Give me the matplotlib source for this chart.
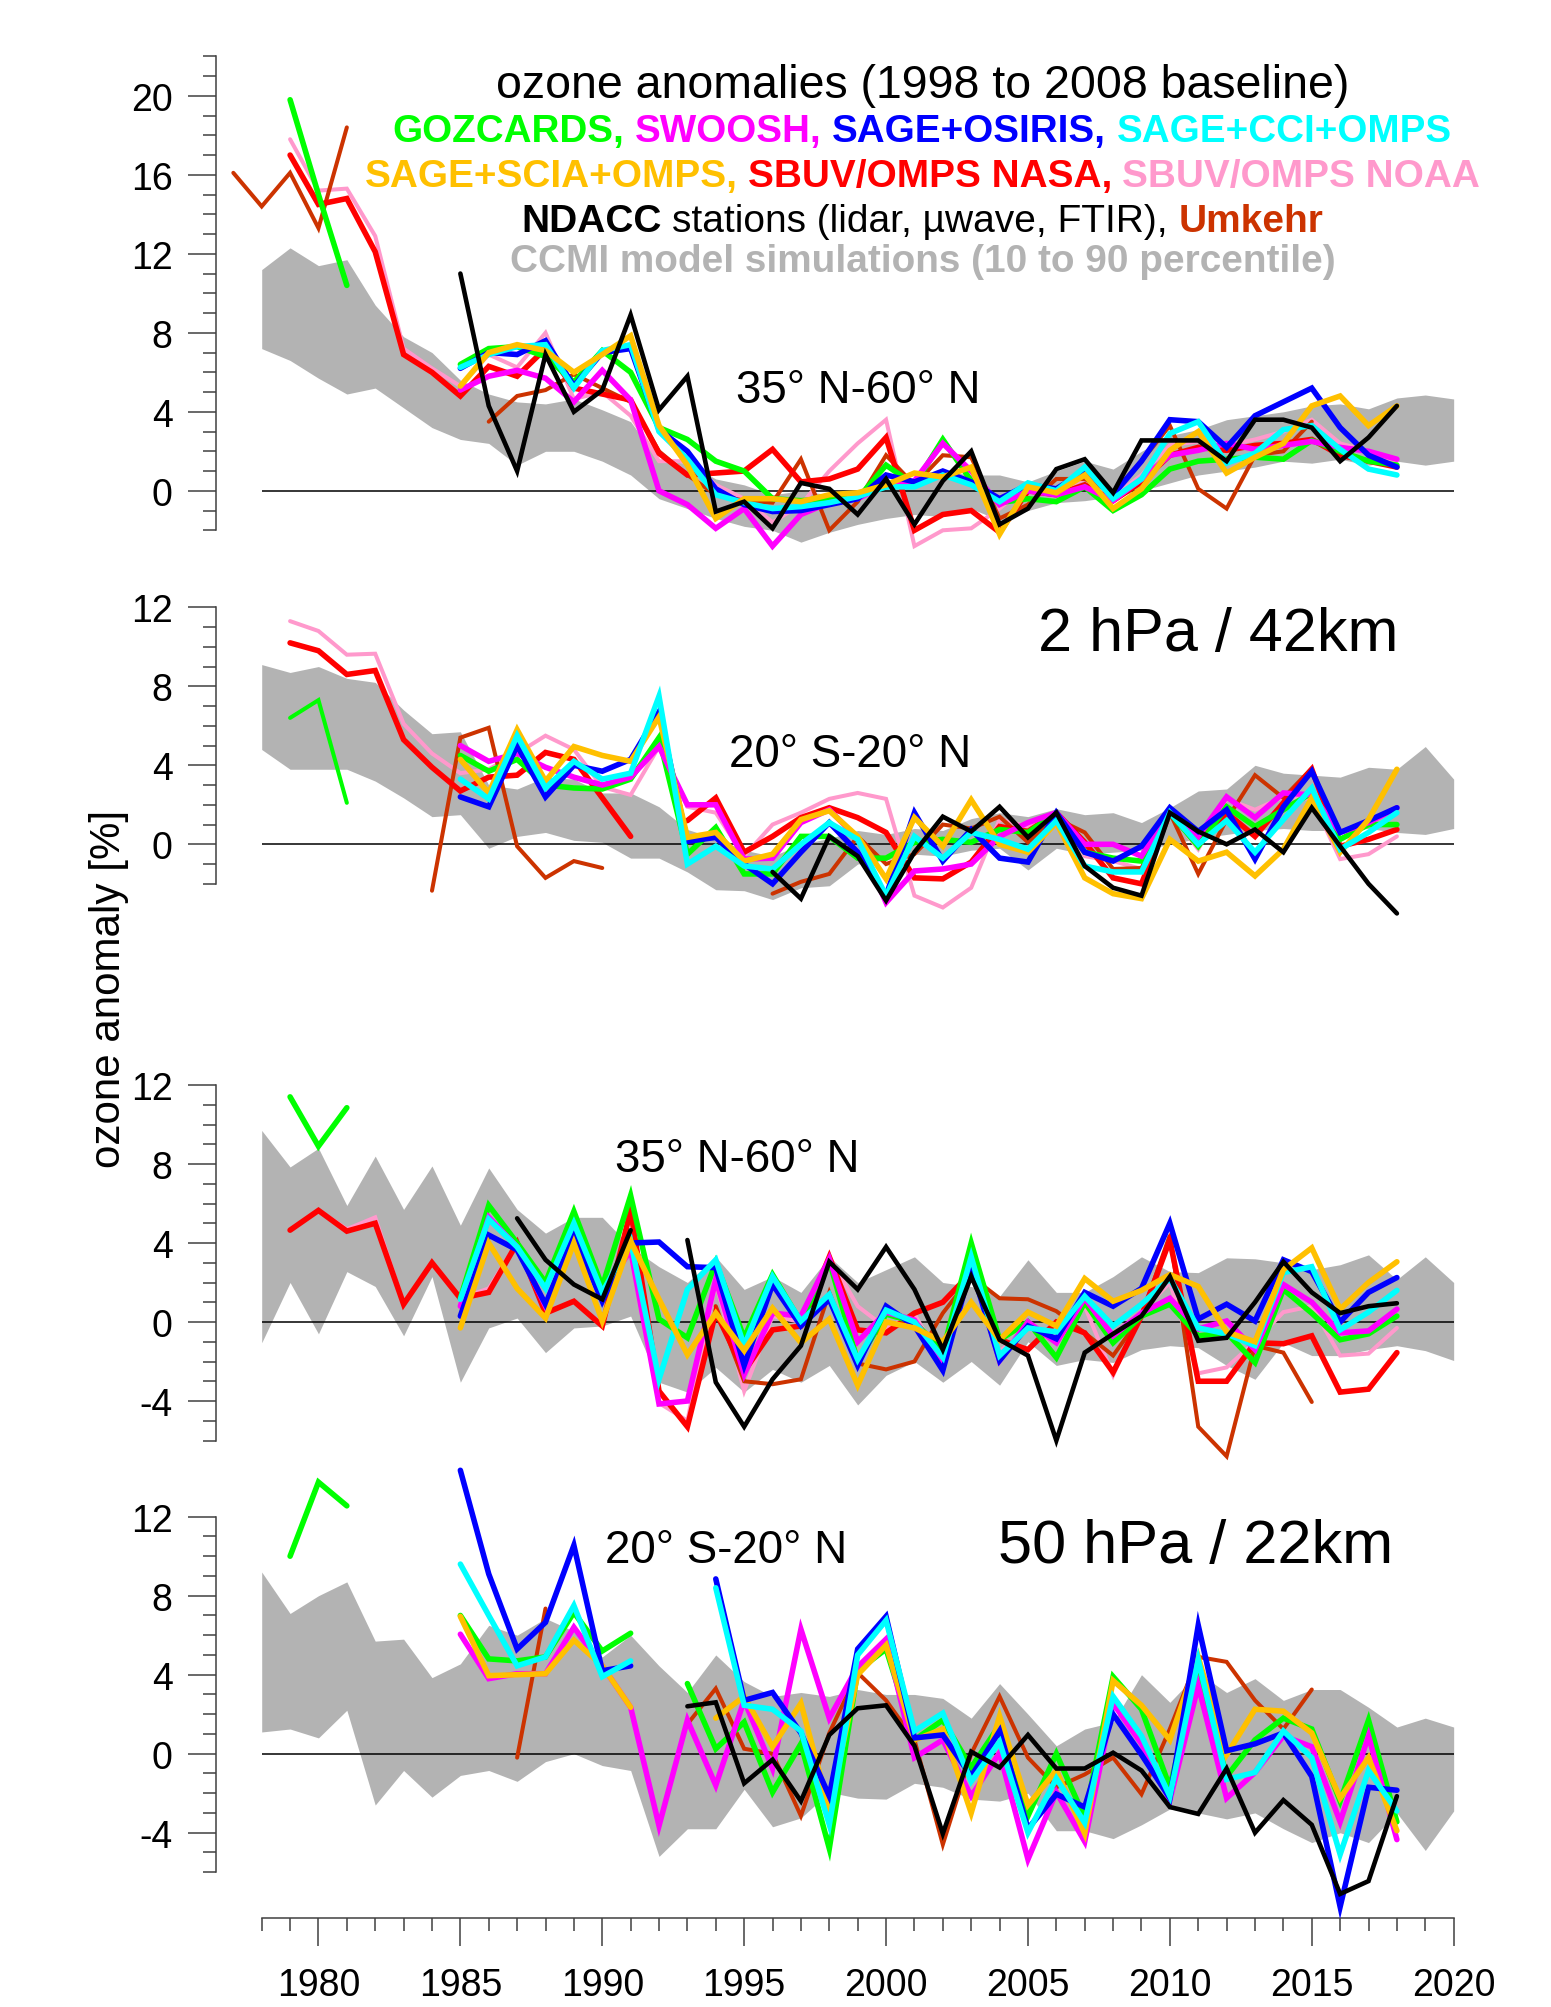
import numpy as np
import matplotlib
matplotlib.use("Agg")
import matplotlib.pyplot as plt
from matplotlib.ticker import FixedLocator, FixedFormatter
from matplotlib.transforms import IdentityTransform

nan = np.nan

# ---------------- data (percent anomalies) ----------------
band_start = 1978   # CCMI band, 1978..2020

# 2 hPa, 35N-60N
p1_hi = [11.2, 12.3, 11.4, 11.7, 9.4, 7.8, 7.0, 5.6, 4.9, 4.5,
         4.4, 4.65, 4.1, 3.5, 1.5, 1.4, 0.6, 0.3, -0.2, 0.0,
         -0.2, 0.0, 0.3, 0.6, 1.0, 0.8, 0.8, 0.45, 1.0, 1.5,
         1.1, 2.0, 2.8, 3.1, 3.6, 3.8, 4.0, 4.3, 4.4, 4.15,
         4.7, 4.85, 4.65]
p1_lo = [7.2, 6.6, 5.7, 4.9, 5.2, 4.2, 3.2, 2.6, 2.4, 1.3,
         2.0, 2.0, 1.5, 0.8, -0.4, -0.9, -1.4, -1.8, -2.0, -2.6,
         -2.1, -1.7, -1.4, -1.2, -1.3, -0.9, -1.5, -1.0, -0.6, -0.5,
         -0.3, 0.0, 0.4, 0.8, 1.0, 1.2, 1.5, 1.4, 1.6, 1.3,
         1.5, 1.3, 1.5]
p1_green_early = [19.8, 15.0, 10.4]            # 1979-1981
p1_green = [6.4, 7.2, 7.3, 6.8, 5.5, 7.1, 6.0, 3.2, 2.6, 1.5,
            1.0, -0.4, -0.5, -0.4, -0.4, 1.3, 0.3, 2.6, 0.5, -0.6,
            -0.4, -0.55, 0.2, -1.0, -0.2, 1.1, 1.5, 1.6, 1.7, 1.6,
            2.55, 2.0, 1.5, 1.3]                  # 1985-2018
p1_magenta = [5.1, 5.8, 6.1, 5.7, 4.5, 6.1, 4.6, 0.0, -0.7, -1.9,
              -0.9, -2.8, -1.2, -0.6, -0.4, 0.3, 0.5, 2.4, 1.0, -0.7,
              0.0, -0.2, 0.2, -0.5, 0.6, 1.8, 2.05, 2.4, 2.1, 2.3,
              2.5, 2.2, 2.0, 1.6]
p1_blue = [6.2, 7.0, 6.9, 7.6, 5.3, 7.0, 7.2, 3.1, 2.0, 0.1,
           -0.7, -1.05, -1.0, -0.7, -0.4, 0.8, 0.45, 1.0, 0.45, -0.4,
           0.3, 0.1, 1.0, -0.2, 1.5, 3.6, 3.5, 2.2, 3.8, 4.5,
           5.2, 3.2, 1.8, 1.2]
p1_cyan = [6.25, 6.9, 7.3, 7.4, 5.2, 7.1, 7.4, 3.0, 1.6, -0.2,
           -0.6, -0.9, -0.8, -0.6, -0.3, 0.2, 0.2, 0.8, 0.3, -0.55,
           0.4, 0.0, 1.2, -0.4, 0.6, 2.9, 3.5, 1.4, 1.9, 3.1,
           3.3, 2.1, 1.1, 0.8]
p1_orange = [5.3, 7.0, 7.4, 7.1, 6.0, 6.9, 7.85, 3.3, 1.3, -1.4,
             -0.4, -0.4, -0.55, -0.2, -0.1, 0.3, 0.9, 0.7, 1.2, -2.2,
             0.2, -0.1, 0.8, -0.9, 0.1, 2.05, 3.0, 0.9, 1.7, 2.4,
             4.3, 4.8, 3.3, 4.3]
p1_red = [17.0, 14.5, 14.8, 12.1, 6.9, 6.0, 4.8, 6.3, 5.8, 7.2,
          5.2, 4.9, 4.6, 1.9, 0.8, 0.9, 1.0, 2.1, 0.45, 0.6,
          1.1, 2.7, -2.0, -1.2, -1.0, -2.1, 0.0, -0.2, 0.3, -0.5,
          0.45, 1.8, 2.2, 2.05, 2.3, 2.4, 2.6, 1.8, 1.5, 1.2]   # 1979-2018
p1_pink = [17.8, 15.2, 15.3, 12.9, 7.2, 6.2, 5.3, 6.9, 6.25, 8.0,
           4.65, 5.0, 3.8, 1.5, 1.5, 0.3, -0.4, -1.6, -0.7, 1.0,
           2.4, 3.6, -2.8, -2.0, -1.9, -0.9, 0.3, 0.0, 0.6, -0.3,
           0.8, 2.3, 2.5, 2.3, 2.6, 3.0, 3.6, 2.4, 2.0, 1.5]
p1_black = [11.0, 4.3, 1.0, 6.9, 4.0, 5.1, 8.9, 4.1, 5.8, -1.05,
            -0.55, -1.9, 0.4, 0.1, -1.2, 0.6, -1.7, 0.5, 2.0, -1.7,
            -0.9, 1.1, 1.6, -0.1, 2.55, 2.55, 2.55, 1.5, 3.6, 3.6,
            3.2, 1.5, 2.7, 4.3]
p1_brown_early = [16.1, 14.4, 16.1, 13.3, 18.4]   # 1977-1981
p1_brown = [3.5, 4.8, 5.1, 5.9, 5.2, 4.5, 2.0, 0.8, -0.2, -0.5,
            -0.6, 1.6, -2.0, -0.55, 1.8, 0.3, 1.8, 1.7, -1.4, -0.7,
            0.6, 0.6, -0.1, 1.5, 3.3, 0.1, -0.9, 1.8, 2.0, 3.5]   # 1986-2015

# 2 hPa, 20S-20N
p2_hi = [9.1, 8.7, 9.0, 8.4, 8.2, 6.8, 5.6, 5.7, 3.0, 2.8,
         3.4, 3.3, 2.6, 2.6, 1.9, 0.75, 0.3, -0.3, -0.6, 0.0,
         0.3, 0.7, 0.5, 0.8, 0.7, 1.3, 1.6, 1.4, 1.8, 1.5,
         1.6, 1.1, 1.85, 2.7, 2.8, 4.0, 3.6, 3.5, 3.4, 3.9,
         3.8, 4.95, 3.3]
p2_lo = [4.8, 3.8, 3.8, 3.8, 3.2, 2.35, 1.4, 1.5, -0.2, 0.4,
         0.6, 0.2, 0.1, -0.7, -0.7, -1.4, -2.3, -2.35, -2.8, -2.2,
         -2.1, -1.0, -0.8, -0.5, -0.6, -0.3, -0.2, -1.3, -0.2, -0.5,
         -0.4, -0.3, 0.0, 0.3, 0.5, 0.7, 0.8, 0.7, 0.7, 0.8,
         0.6, 0.5, 0.8]
p2_green_early = [6.4, 7.3, 2.1]
p2_green = [4.5, 3.7, 4.3, 3.0, 2.85, 2.8, 3.3, 5.4, -0.5, 0.85,
            -1.5, -1.5, 0.4, 0.4, -0.7, -0.7, 0.1, 0.25, 0.1, 0.75,
            0.6, 1.6, -0.4, -0.7, -0.85, 1.6, -0.1, 1.9, 0.9, 1.75,
            2.6, 0.25, 1.0, 1.0]
p2_magenta = [5.0, 4.2, 4.6, 3.9, 3.4, 3.0, 3.4, 4.95, 2.0, 2.0,
              -0.75, -0.7, 1.1, 1.75, 0.3, -2.95, -1.35, -1.25, -1.0, 0.4,
              1.1, 1.6, 0.0, 0.0, -0.6, 1.75, 0.4, 2.4, 1.35, 2.6,
              2.5, 0.6, 1.1, 1.85]
p2_blue = [2.4, 1.9, 5.0, 2.4, 4.0, 3.7, 4.3, 6.7, 0.15, 0.35,
           -1.0, -2.0, -0.4, 1.1, -0.4, -2.6, 1.6, -0.85, 0.75, -0.7,
           -0.9, 1.6, -0.4, -0.85, -0.1, 1.85, 0.65, 1.75, -0.75, 1.9,
           3.7, 0.6, 1.2, 1.85]
p2_cyan = [3.3, 2.3, 5.5, 2.85, 4.2, 3.3, 3.6, 7.5, -1.0, -0.1,
           -1.1, -1.25, 0.0, 1.1, 0.25, -2.6, 0.4, -0.7, 0.6, 0.25,
           -0.25, 1.2, -1.1, -1.4, -1.4, 1.6, 0.0, 1.2, -0.4, 1.25,
           2.85, -0.25, 0.6, 1.6]
p2_orange = [4.3, 2.6, 5.8, 3.2, 4.95, 4.5, 4.2, 6.45, 0.35, 0.6,
             -0.85, -0.5, 1.25, 1.7, 0.4, -1.75, 1.35, -0.1, 2.25, 0.0,
             -0.4, 1.1, -1.7, -2.5, -2.75, 0.25, -0.85, -0.4, -1.6, -0.25,
             2.35, -0.4, 1.25, 3.8]
p2_red = [10.2, 9.8, 8.6, 8.8, 5.3, 3.9, 2.7, 3.4, 3.5, 4.65,
          4.3, 2.35, 0.4, nan, 1.2, 2.35, -0.4, 0.4, 1.35, 1.85,
          1.35, 0.6, -1.7, -1.75, -0.9, 0.9, 0.65, 1.6, 0.1, -1.7,
          -2.0, 1.6, 0.15, 1.6, 0.4, 2.1, 3.8, -0.1, 0.25, 0.75]
p2_pink = [11.3, 10.8, 9.6, 9.65, 6.1, 4.6, 3.6, 3.8, 4.6, 5.5,
           4.8, 2.9, 2.5, 4.95, 1.9, 1.6, -0.6, 1.0, 1.6, 2.3,
           2.6, 2.3, -2.6, -3.2, -2.2, 1.25, 0.9, 1.6, -0.6, -0.85,
           -1.25, 1.6, -0.25, 2.3, 1.75, 2.4, 2.3, -0.75, -0.5, 0.4]
p2_black = [-1.4, -2.75, 0.4, -0.6, -2.85, -0.4, 1.4, 0.65, 1.9, 0.35,
            1.6, -1.1, -2.2, -2.6, 1.6, 0.65, 0.0, 0.75, -0.4, 1.85,
            -0.1, -2.0, -3.5]                       # 1996-2018
p2_brown_early = [-2.35, 5.4, 5.9, -0.1, -1.7, -0.85, -1.2]   # 1984-1990
p2_brown = [-2.5, -1.9, -1.5, 0.4, -1.0, -0.5, 1.0, 0.8, 1.4, 0.1,
            1.3, 0.6, -1.25, -1.2, 1.6, -1.5, 1.25, 3.5, 2.35, 3.85]   # 1996-2015

# 50 hPa, 35N-60N
p3_hi = [9.7, 7.85, 8.8, 5.9, 8.4, 5.7, 7.9, 4.9, 7.8, 5.7,
         4.5, 5.3, 5.3, 3.8, 2.8, 2.0, 3.3, 1.65, 2.3, 1.5,
         3.3, 2.0, 2.65, 3.3, 2.0, 1.8, 1.3, 3.15, 1.5, 1.5,
         2.3, 3.3, 2.55, 2.5, 3.25, 3.2, 3.0, 2.65, 2.9, 3.4,
         2.15, 3.3, 2.0]
p3_lo = [-1.05, 2.0, -0.6, 2.55, 1.8, -0.7, 2.3, -3.05, -0.3, 0.2,
         -1.55, -0.3, -0.2, 0.3, -3.05, -3.55, -2.3, -3.55, -2.4, -3.05,
         -2.2, -4.2, -2.7, -2.0, -3.05, -2.0, -3.2, -1.0, -2.2, -1.9,
         -2.05, -1.4, -1.2, -1.3, -2.2, -2.9, -1.05, -1.7, -1.7, -1.4,
         -1.2, -1.45, -1.95]
p3_green_early = [11.4, 8.9, 10.85]
p3_green = [1.2, 5.9, 4.0, 2.0, 5.6, 1.8, 6.4, 0.15, -0.8, 3.0,
            -0.8, 2.4, 0.0, 3.1, -2.0, 0.4, 0.0, -1.5, 4.0, -0.9,
            0.0, -1.8, 1.0, -1.05, 0.3, 0.9, -0.7, -0.55, -2.05, 1.65,
            0.45, -0.9, -0.6, 0.3]
p3_magenta = [0.8, 5.3, 3.8, 0.8, 4.3, 1.4, 3.65, -4.15, -4.0, 2.15,
              -2.65, 0.45, 0.3, 3.2, -1.0, 0.5, 0.1, -2.05, 3.0, -1.95,
              0.0, -1.05, 1.2, -0.7, 0.45, 1.2, -0.35, 0.05, -1.4, 1.9,
              1.0, -0.55, -0.45, 0.65]
p3_blue = [0.3, 4.4, 3.65, 0.9, 4.4, 1.05, 4.0, 4.05, 2.8, 2.75,
           -2.2, 1.9, -0.2, 1.15, -2.2, 0.8, -0.2, -2.45, 2.8, -1.95,
           -0.2, -0.85, 1.5, 0.8, 1.7, 5.0, 0.15, 0.9, 0.05, 3.15,
           2.55, 0.0, 1.5, 2.25]
p3_cyan = [1.15, 5.2, 3.8, 1.7, 5.0, 1.5, 4.1, -2.9, 1.65, 3.15,
           -1.2, 2.3, 0.05, 1.4, -1.9, 0.6, 0.0, -1.8, 3.3, -1.7,
           -0.3, -0.5, 1.3, -0.2, 0.9, 2.2, -0.3, -0.6, -1.2, 2.5,
           2.8, -0.4, 0.5, 1.6]
p3_orange = [-0.3, 4.0, 1.7, 0.2, 4.0, 0.05, 4.1, 1.15, -1.65, 0.45,
             -1.45, 0.7, -1.05, 0.15, -3.2, 0.0, -0.3, -1.0, 1.0, -0.9,
             0.5, -0.2, 2.2, 1.05, 1.6, 2.4, 1.8, -0.5, -1.0, 2.65,
             3.75, 0.65, 2.0, 3.05]
p3_red = [4.65, 5.65, 4.6, 5.0, 0.9, 3.0, 1.2, 1.5, 4.0, 0.45,
          1.05, -0.2, 5.65, -3.5, -5.3, 0.5, -2.5, -0.4, -0.2, 3.3,
          -0.4, -0.55, 0.45, 1.0, 2.5, -0.9, -1.4, 0.0, -0.55, -2.55,
          0.3, 4.15, -3.0, -3.0, -1.05, -1.1, -0.7, -3.55, -3.4, -1.55]
p3_pink = [4.65, 5.65, 4.7, 5.3, 0.9, 3.0, 1.2, 1.7, 4.0, 0.45,
           1.05, -0.2, 5.5, -4.1, -5.0, 2.0, -3.5, 0.3, 0.0, 3.3,
           0.8, -0.3, 0.4, -2.1, 2.5, -1.5, -0.3, -1.0, 0.8, -2.7,
           0.5, 2.0, -2.6, -2.3, -1.0, 0.5, 0.8, -1.7, -1.6, -0.3]
p3_black = [5.25, 3.15, 1.9, 1.15, 4.65, nan,
            4.15, -3.05, -5.3, -2.9, -1.2, 3.05, 1.65, 3.8, 1.65, -1.4,
            2.3, -0.9, -1.7, -6.0, -1.55, -0.6, 0.3, 2.3, -0.95, -0.8,
            1.0, 3.05, 1.5, 0.45, 0.8, 0.95]       # 1987-2018
p3_brown = [0.8, -3.0, -3.15, -2.9, 1.5, -2.1, -2.4, -2.0, 0.45, 2.3,
            1.2, 1.15, 0.55, -0.55, -1.7, 0.3, 4.4, -5.3, -6.8, -1.2,
            -1.55, -4.05]                           # 1994-2015

# 50 hPa, 20S-20N
p4_hi = [9.2, 7.1, 8.0, 8.7, 5.7, 5.8, 3.85, 4.55, 6.5, 6.0,
         6.85, 6.2, 4.9, 6.0, 4.45, 3.1, 5.0, 3.65, 2.9, 3.1,
         2.9, 3.25, 3.0, 3.0, 2.8, 1.8, 3.55, 2.0, 0.4, 1.25,
         1.6, 4.0, 2.6, 4.1, 3.1, 3.8, 2.7, 3.25, 3.25, 2.35,
         1.35, 1.8, 1.35]
p4_lo = [1.1, 1.25, 0.8, 2.2, -2.6, -0.85, -2.2, -1.1, -0.85, -1.4,
         -0.4, 0.0, -0.6, -0.85, -5.2, -3.8, -3.8, -1.8, -3.7, -3.25,
         -1.95, -2.25, -2.3, -1.5, -1.7, -2.3, -2.4, -2.0, -3.9, -3.9,
         -4.3, -3.6, -2.8, -3.0, -3.3, -3.0, -3.8, -4.5, -4.0, -4.5,
         -3.0, -4.9, -2.9]
p4_green_early = [10.0, 13.75, 12.55]
p4_green = [7.0, 4.8, 4.7, 4.9, 7.15, 5.2, 6.1, nan,
            3.55, 0.25, 1.6, -1.95, 0.5, -4.8, 4.2, 5.3, 0.7, 1.7,
            -0.7, 1.45, -3.15, 0.0, -3.25, 3.9, 2.25, -1.7, 4.35, -1.15,
            0.7, 1.8, 1.25, -2.4, 1.7, -3.45]
p4_magenta = [6.05, 3.8, 4.05, 4.05, 6.4, 4.45, 2.35, -3.65, 1.7, -1.6,
              2.7, -0.75, 6.3, 1.8, 4.4, 5.8, -0.2, 0.7, -2.15, 0.05,
              -5.35, -1.95, -4.45, 2.55, 0.5, -2.35, 3.45, -2.25, -0.95, 0.9,
              0.35, -3.45, 0.9, -4.35]
p4_blue = [14.35, 9.1, 5.3, 6.65, 10.55, 4.2, 4.45, nan, nan,
           8.85, 2.7, 3.1, 1.05, -2.15, 5.3, 6.95, 0.8, 0.95, -1.15,
           1.15, -3.8, -2.05, -2.7, 2.0, -0.05, -2.25, 6.5, 0.15, 0.5,
           1.05, -1.15, -7.75, -1.7, -1.85]
p4_cyan = [9.6, 7.0, 4.45, 4.9, 7.5, 3.9, 4.7, nan, nan,
           8.4, 2.45, 2.25, 1.15, -3.6, 5.0, 6.75, 1.15, 2.05, -1.4,
           0.6, -4.0, -1.25, -3.5, 2.9, 0.9, -2.15, 4.75, -1.3, -0.95,
           1.15, -0.2, -5.1, -0.85, -2.9]
p4_orange = [6.95, 3.95, 4.0, 4.05, 5.75, 4.45, 2.35, nan, nan,
             1.8, 2.9, 0.35, 2.55, -2.8, 4.0, 5.5, 0.7, 1.25, -3.0,
             1.9, -2.6, -0.85, -4.05, 3.7, 2.45, 0.7, 4.9, -0.05, 2.25,
             2.15, 1.05, -2.25, -0.2, -3.9]
p4_black = [2.4, 2.6, -1.5, -0.3, -2.4, 0.95, 2.3, 2.45, 0.4, -4.05,
            0.1, -0.7, 0.95, -0.75, -0.75, 0.05, -0.85, -2.7, -3.05, -0.75,
            -4.0, -2.35, -3.6, -7.1, -6.45, -2.15]   # 1993-2018
p4_brown_early = [-0.2, 7.35]                        # 1987-1988
p4_brown = [1.5, 3.3, 0.25, 0.0, -3.15, 1.05, 4.1, 2.7, 0.7, -4.6,
            0.0, 2.9, -0.2, -1.7, -1.05, -0.2, -2.05, 1.25, 4.9, 4.65,
            2.7, 1.25, 3.25]                          # 1993-2015

GREEN, MAGENTA, BLUE, CYAN = "#00ff00", "#ff00ff", "#0000ff", "#00ffff"
ORANGE, RED, PINK, BROWN = "#ffc000", "#ff0000", "#ff99cc", "#cc3300"
BLACK, BAND, AXC = "#000000", "#b3b3b3", "#404040"

# line widths (points)
LW_SAT, LW_THIN, LW_BLACK = 4.0, 2.9, 3.3

plt.rcParams["font.family"] = ["Liberation Sans", "DejaVu Sans"]

W, H = 1551, 2008
fig = plt.figure(figsize=(W / 100, H / 100), dpi=100)

# pixel geometry
X1978, PXYR, KY = 261.7, 28.38, 19.75
AX_LEFT = 215.7
AX_RIGHT = X1978 + 42 * PXYR
XLEFT = 1978 - (X1978 - AX_LEFT) / PXYR


def make_axes(zero_px, ylo, yhi):
    top = zero_px - yhi * KY
    bot = zero_px - ylo * KY
    ax = fig.add_axes([AX_LEFT / W, 1 - bot / H, (AX_RIGHT - AX_LEFT) / W, (bot - top) / H])
    ax.set_xlim(XLEFT, 2020)
    ax.set_ylim(ylo, yhi)
    ax.patch.set_visible(False)
    return ax


def style_axes(ax, spine_lo, spine_hi, xaxis=False):
    for s in ["top", "right", "bottom"]:
        ax.spines[s].set_visible(False)
    ax.spines["left"].set_bounds(spine_lo, spine_hi)
    ax.spines["left"].set_color(AXC)
    ax.spines["left"].set_linewidth(1.1)
    allt = np.arange(spine_lo, spine_hi + 1)
    major = [t for t in allt if t % 4 == 0]
    minor = [t for t in allt if t % 4 != 0]
    ax.yaxis.set_major_locator(FixedLocator(major))
    ax.yaxis.set_major_formatter(FixedFormatter([str(int(t)) for t in major]))
    ax.yaxis.set_minor_locator(FixedLocator(minor))
    ax.tick_params(axis="y", which="major", direction="out", length=20, width=1.1,
                   color=AXC, labelsize=27, pad=11)
    ax.tick_params(axis="y", which="minor", direction="out", length=9.5, width=1.1, color=AXC)
    if xaxis:
        ax.spines["bottom"].set_visible(True)
        ax.spines["bottom"].set_bounds(1978, 2020)
        ax.spines["bottom"].set_color(AXC)
        ax.spines["bottom"].set_linewidth(1.1)
        yrs = np.arange(1978, 2021)
        xmaj = [y for y in yrs if y % 5 == 0]
        xmin = [y for y in yrs if y % 5 != 0]
        ax.xaxis.set_major_locator(FixedLocator(xmaj))
        ax.xaxis.set_major_formatter(FixedFormatter([str(y) for y in xmaj]))
        ax.xaxis.set_minor_locator(FixedLocator(xmin))
        ax.tick_params(axis="x", which="major", direction="out", length=20, width=1.1,
                       color=AXC, labelsize=27, pad=15)
        ax.tick_params(axis="x", which="minor", direction="out", length=9.5, width=1.1, color=AXC)
    else:
        ax.tick_params(axis="x", which="both", bottom=False, labelbottom=False)


def draw_band(ax, hi, lo):
    yrs = np.arange(band_start, band_start + len(hi))
    ax.fill_between(yrs, lo, hi, color=BAND, lw=0, zorder=1)
    ax.hlines(0, yrs[0], yrs[-1], color="black", lw=1.1, zorder=1.5)


def line(ax, start, vals, color, lw=LW_SAT, z=5):
    v = np.array(vals, dtype=float)
    ax.plot(np.arange(start, start + len(v)), v, color=color, lw=lw, zorder=z,
            solid_joinstyle="miter", solid_capstyle="round")


# ---------------- panel 1 ----------------
ax1 = make_axes(491.8, -3.5, 23.5)
draw_band(ax1, p1_hi, p1_lo)
line(ax1, 1979, p1_pink, PINK, LW_THIN, 2)
line(ax1, 1977, p1_brown_early, BROWN, LW_THIN, 3)
line(ax1, 1986, p1_brown, BROWN, LW_THIN, 3)
line(ax1, 1979, p1_red, RED, LW_SAT, 4)
line(ax1, 1979, p1_green_early, GREEN, LW_SAT, 5)
line(ax1, 1985, p1_green, GREEN, LW_SAT, 5)
line(ax1, 1985, p1_magenta, MAGENTA, LW_SAT, 6)
line(ax1, 1985, p1_blue, BLUE, LW_SAT, 7)
line(ax1, 1985, p1_cyan, CYAN, LW_SAT, 8)
line(ax1, 1985, p1_orange, ORANGE, LW_SAT, 9)
line(ax1, 1985, p1_black, BLACK, LW_BLACK, 10)
style_axes(ax1, -2, 22)

# ---------------- panel 2 ----------------
ax2 = make_axes(845.3, -4.5, 13.5)
draw_band(ax2, p2_hi, p2_lo)
line(ax2, 1979, p2_pink, PINK, LW_THIN, 2)
line(ax2, 1984, p2_brown_early, BROWN, LW_THIN, 3)
line(ax2, 1996, p2_brown, BROWN, LW_THIN, 3)
line(ax2, 1979, p2_red, RED, LW_SAT, 4)
line(ax2, 1979, p2_green_early, GREEN, LW_THIN, 5)
line(ax2, 1985, p2_green, GREEN, LW_SAT, 5)
line(ax2, 1985, p2_magenta, MAGENTA, LW_SAT, 6)
line(ax2, 1985, p2_blue, BLUE, LW_SAT, 7)
line(ax2, 1985, p2_orange, ORANGE, LW_SAT, 8)
line(ax2, 1985, p2_cyan, CYAN, LW_SAT, 9)
line(ax2, 1996, p2_black, BLACK, LW_BLACK, 10)
style_axes(ax2, -2, 12)

# ---------------- panel 3 ----------------
ax3 = make_axes(1323.0, -7.5, 13.0)
draw_band(ax3, p3_hi, p3_lo)
line(ax3, 1979, p3_pink, PINK, LW_THIN, 2)
line(ax3, 1994, p3_brown, BROWN, LW_THIN, 3)
line(ax3, 1979, p3_red, RED, LW_SAT, 4)
line(ax3, 1979, p3_green_early, GREEN, LW_SAT, 5)
line(ax3, 1985, p3_green, GREEN, LW_SAT, 5)
line(ax3, 1985, p3_magenta, MAGENTA, LW_SAT, 6)
line(ax3, 1985, p3_blue, BLUE, LW_SAT, 7)
line(ax3, 1985, p3_cyan, CYAN, LW_SAT, 8)
line(ax3, 1985, p3_orange, ORANGE, LW_SAT, 9)
line(ax3, 1987, p3_black, BLACK, LW_BLACK, 10)
style_axes(ax3, -6, 12)

# ---------------- panel 4 ----------------
ax4 = make_axes(1754.7, -(1919 - 1754.7) / KY, 14.5)
draw_band(ax4, p4_hi, p4_lo)
line(ax4, 1987, p4_brown_early, BROWN, LW_THIN, 3)
line(ax4, 1993, p4_brown, BROWN, LW_THIN, 3)
line(ax4, 1979, p4_green_early, GREEN, LW_SAT, 5)
line(ax4, 1985, p4_green, GREEN, LW_SAT, 5)
line(ax4, 1985, p4_magenta, MAGENTA, LW_SAT, 6)
line(ax4, 1985, p4_orange, ORANGE, LW_SAT, 7)
line(ax4, 1985, p4_blue, BLUE, LW_SAT, 8)
line(ax4, 1985, p4_cyan, CYAN, LW_SAT, 9)
line(ax4, 1993, p4_black, BLACK, LW_BLACK, 10)
style_axes(ax4, -6, 12, xaxis=True)

# ---------------- text ----------------
renderer = fig.canvas.get_renderer()


def put_line(pieces, base_y, target_w, cx=None, left=None):
    fs0 = 20.0
    objs = [fig.text(0, 0, t, color=c, fontweight=w, fontsize=fs0, ha="left",
                     va="baseline", transform=IdentityTransform()) for t, c, w in pieces]
    a1 = fig.text(0, 0, "a a", fontsize=fs0, transform=IdentityTransform())
    a2 = fig.text(0, 0, "aa", fontsize=fs0, transform=IdentityTransform())
    gap = a1.get_window_extent(renderer).width - a2.get_window_extent(renderer).width
    a1.remove()
    a2.remove()
    widths = [o.get_window_extent(renderer).width for o in objs]
    total = sum(widths) + gap * (len(objs) - 1)
    s = target_w / total
    x = (cx - target_w / 2) if cx is not None else left
    for o, w in zip(objs, widths):
        o.set_fontsize(fs0 * s)
        o.set_position((x, H - base_y))
        x += (w + gap) * s


CX = 922
put_line([("ozone anomalies (1998 to 2008 baseline)", BLACK, "normal")], 98, 853, cx=CX)
put_line([("GOZCARDS,", GREEN, "bold"), ("SWOOSH,", MAGENTA, "bold"),
          ("SAGE+OSIRIS,", BLUE, "bold"), ("SAGE+CCI+OMPS", CYAN, "bold")], 142, 1060, cx=CX)
put_line([("SAGE+SCIA+OMPS,", ORANGE, "bold"), ("SBUV/OMPS NASA,", RED, "bold"),
          ("SBUV/OMPS NOAA", PINK, "bold")], 187, 1114, cx=CX)
put_line([("NDACC", BLACK, "bold"), ("stations (lidar, µwave, FTIR),", BLACK, "normal"),
          ("Umkehr", BROWN, "bold")], 232, 801, cx=CX)
put_line([("CCMI model simulations (10 to 90 percentile)", BAND, "bold")], 272, 825, cx=CX)

put_line([("35° N-60° N", BLACK, "normal")], 403, 244, left=736)
put_line([("20° S-20° N", BLACK, "normal")], 767, 242, left=729)
put_line([("2 hPa / 42km", BLACK, "normal")], 651, 360, left=1038)
put_line([("35° N-60° N", BLACK, "normal")], 1172, 244, left=615)
put_line([("20° S-20° N", BLACK, "normal")], 1563, 242, left=605)
put_line([("50 hPa / 22km", BLACK, "normal")], 1563, 395, left=998)

# y label, fitted to its length
yl = fig.text(0, 0, "ozone anomaly [%]", fontsize=20, transform=IdentityTransform())
wl = yl.get_window_extent(renderer).width
yl.set_fontsize(20 * 358 / wl)
yl.set_rotation(90)
yl.set_ha("center")
yl.set_va("center")
yl.set_position((109, H - 989))

fig.savefig("out.png", dpi=100)
